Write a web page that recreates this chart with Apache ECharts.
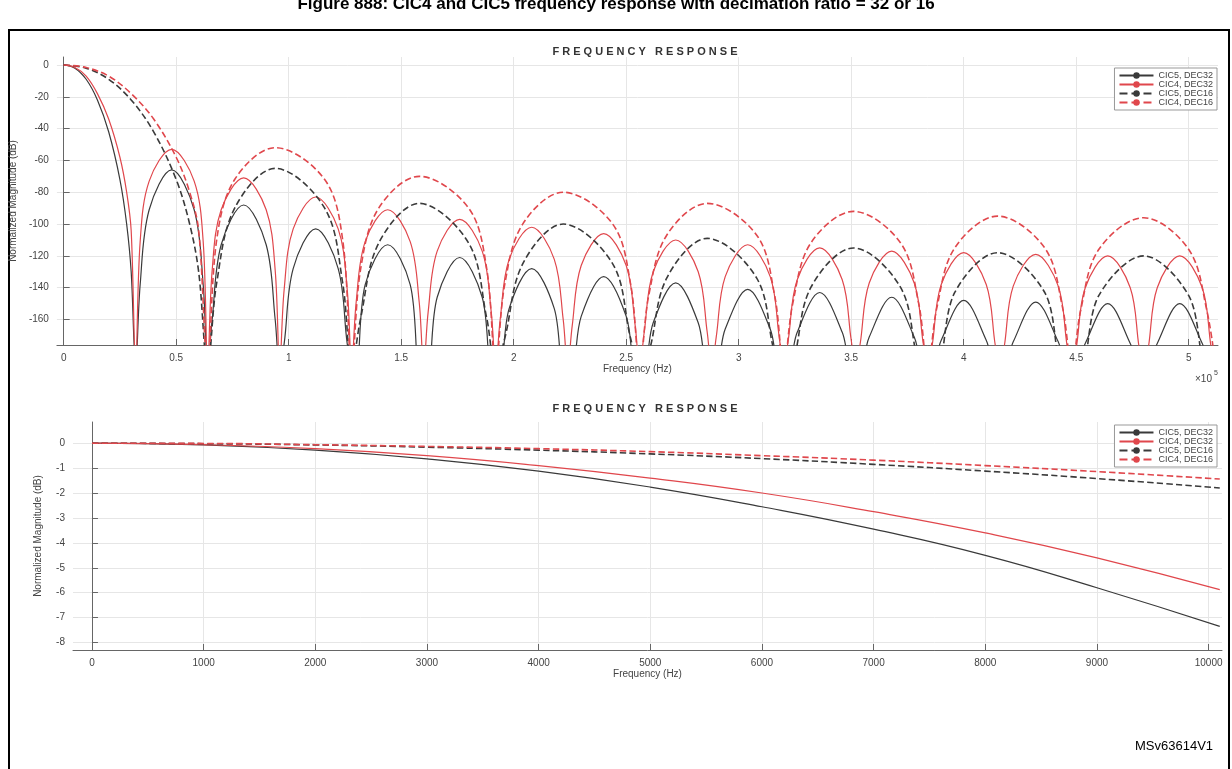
<!DOCTYPE html>
<html><head><meta charset="utf-8">
<script src="https://cdn.jsdelivr.net/npm/echarts@6/dist/echarts.min.js"></script>
<style>html,body{margin:0;padding:0;background:#fff}#c{width:1232px;height:769px}</style>
</head><body><div id="c"></div>
<script>
// ---- top chart (x in units of 1e5 Hz, y in dB) ----
const xDec32 = [0,0.05,0.1,0.15,0.2,0.25,0.28,0.3,
 0.32,0.34,0.38,0.48,0.58,0.62, 0.64,0.66,0.70,0.80,0.90,0.94, 0.96,0.98,1.02,1.12,1.22,1.26,
 1.28,1.30,1.34,1.44,1.54,1.58, 1.60,1.62,1.66,1.76,1.86,1.90, 1.92,1.94,1.98,2.08,2.18,2.22,
 2.24,2.26,2.30,2.40,2.50,2.54, 2.56,2.58,2.62,2.72,2.82,2.86, 2.88,2.90,2.94,3.04,3.14,3.18,
 3.20,3.22,3.26,3.36,3.46,3.50, 3.52,3.54,3.58,3.68,3.78,3.82, 3.84,3.86,3.90,4.00,4.10,4.14,
 4.16,4.18,4.22,4.32,4.42,4.46, 4.48,4.50,4.54,4.64,4.74,4.78, 4.80,4.82,4.86,4.96,5.06,5.10, 5.12];
const cic5Dec32 = [0,-2,-9,-22,-42,-72,-100,-130,
 -190,-138,-91,-66,-91,-138, -190,-160,-113,-88,-113,-160, -190,-175,-128,-103,-128,-175,
 -190,-190,-138,-113,-138,-190, -190,-190,-146,-121,-146,-190, -190,-190,-153,-128,-153,-190,
 -190,-190,-158,-133,-158,-190, -190,-190,-162,-137,-162,-190, -190,-190,-166,-141,-166,-190,
 -190,-190,-168,-143,-168,-190, -190,-190,-171,-146,-171,-190, -190,-190,-173,-148,-173,-190,
 -190,-190,-174,-149,-174,-190, -190,-190,-175,-150,-175,-190, -190,-190,-175,-150,-175,-190, -190];
const cic4Dec32 = [0,-1.6,-7,-18,-34,-58,-80,-104,
 -190,-111,-73,-53,-73,-111, -190,-129,-91,-71,-91,-129, -190,-141,-103,-83,-103,-141,
 -190,-149,-111,-91,-111,-149, -190,-155,-117,-97,-117,-155, -190,-160,-122,-102,-122,-160,
 -190,-164,-126,-106,-126,-164, -190,-168,-130,-110,-130,-168, -190,-171,-133,-113,-133,-171,
 -190,-173,-135,-115,-135,-173, -190,-175,-137,-117,-137,-175, -190,-176,-138,-118,-138,-176,
 -190,-177,-139,-119,-139,-177, -190,-178,-140,-120,-140,-178, -190,-178,-140,-120,-140,-178, -190];
const xDec16 = [0,0.1,0.2,0.3,0.4,0.5,0.56,0.6,
 0.64,0.68,0.76,0.94,1.16,1.24, 1.28,1.32,1.40,1.58,1.80,1.88, 1.92,1.96,2.04,2.22,2.44,2.52,
 2.56,2.60,2.68,2.86,3.08,3.16, 3.20,3.24,3.32,3.51,3.72,3.80, 3.84,3.88,3.96,4.15,4.36,4.44,
 4.48,4.52,4.60,4.80,5.00,5.08, 5.12];
const cic5Dec16 = [0,-2,-9,-22,-42,-72,-100,-130,
 -190,-137,-90,-65,-90,-137, -190,-159,-112,-87,-112,-159, -190,-172,-125,-100,-125,-172,
 -190,-181,-134,-109,-134,-181, -190,-187,-140,-115,-140,-187, -190,-190,-143,-118,-143,-190,
 -190,-190,-145,-120,-145,-190, -190];
const cic4Dec16 = [0,-1.6,-7,-18,-34,-58,-80,-104,
 -190,-110,-72,-52,-72,-110, -190,-128,-90,-70,-90,-128, -190,-138,-100,-80,-100,-138,
 -190,-145,-107,-87,-107,-145, -190,-150,-112,-92,-112,-150, -190,-153,-115,-95,-115,-153,
 -190,-154,-116,-96,-116,-154, -190];
const topYTicks = [0,-20,-40,-60,-80,-100,-120,-140,-160];
const topXTicks = [0,0.5,1,1.5,2,2.5,3,3.5,4,4.5,5];
// ---- bottom chart (Hz, dB) ----
const xZoom = [0,1000,2000,3000,4000,5000,6000,7000,8000,9000,10100];
const zCic5Dec32 = [0,-0.07,-0.28,-0.63,-1.12,-1.76,-2.55,-3.45,-4.5,-5.8,-7.35];
const zCic4Dec32 = [0,-0.06,-0.22,-0.5,-0.9,-1.4,-2.0,-2.75,-3.6,-4.6,-5.88];
const zCic5Dec16 = [0,-0.02,-0.07,-0.16,-0.28,-0.43,-0.62,-0.85,-1.12,-1.42,-1.8];
const zCic4Dec16 = [0,-0.01,-0.06,-0.13,-0.22,-0.34,-0.5,-0.68,-0.9,-1.14,-1.44];
const botXTicks = [0,1000,2000,3000,4000,5000,6000,7000,8000,9000,10000];
const botYTicks = [0,-1,-2,-3,-4,-5,-6,-7,-8];
const names = ['CIC5, DEC32','CIC4, DEC32','CIC5, DEC16','CIC4, DEC16'];

const BLK='#3a3a3a', RED='#e0474c';
const zip=(xs,ys)=>xs.map((x,i)=>[x,ys[i]]);
const styles=[{color:BLK,type:'solid',width:1.2},{color:RED,type:'solid',width:1.2},{color:BLK,type:'dashed',width:1.6},{color:RED,type:'dashed',width:1.6}];
const topSets=[[xDec32,cic5Dec32],[xDec32,cic4Dec32],[xDec16,cic5Dec16],[xDec16,cic4Dec16]];
const botSets=[[xZoom,zCic5Dec32],[xZoom,zCic4Dec32],[xZoom,zCic5Dec16],[xZoom,zCic4Dec16]];
const series=[];
topSets.forEach((s,i)=>series.push({name:names[i],type:'line',xAxisIndex:0,yAxisIndex:0,data:zip(s[0],s[1]),smooth:0.35,showSymbol:false,symbol:'none',clip:true,lineStyle:styles[i],color:styles[i].color}));
botSets.forEach((s,i)=>series.push({name:names[i],type:'line',xAxisIndex:1,yAxisIndex:1,data:zip(s[0],s[1]),smooth:true,showSymbol:false,symbol:'none',lineStyle:styles[i],color:styles[i].color}));
const axCol='#666', gridCol='#e6e6e6';
const lbl={color:'#444',fontSize:10,fontFamily:'Arial',formatter:v=>String(v)};
const lg={data:names,orient:'vertical',right:15,itemWidth:34,itemHeight:8,itemGap:0,padding:[3,4],borderColor:'#999',borderWidth:1,backgroundColor:'#fff',textStyle:{fontSize:9,color:'#444',fontFamily:'Arial'}};
const ch=echarts.init(document.getElementById('c'));
ch.setOption({
 animation:false,
 title:[
  {text:'Figure 888: CIC4 and CIC5 frequency response with decimation ratio = 32 or 16',left:'center',top:-9,textStyle:{fontSize:17,fontWeight:'bold',fontFamily:'Arial',color:'#000'}},
  {text:'F R E Q U E N C Y   R E S P O N S E',left:640,top:41,textAlign:'center',textStyle:{fontSize:11,fontWeight:'bold',fontFamily:'Arial',color:'#333'}},
  {text:'F R E Q U E N C Y   R E S P O N S E',left:640,top:398,textAlign:'center',textStyle:{fontSize:11,fontWeight:'bold',fontFamily:'Arial',color:'#333'}},
  {text:'MSv63614V1',left:1130,top:735,textStyle:{fontSize:13,fontWeight:'normal',fontFamily:'Arial',color:'#000'}}
 ],
 graphic:[
  {type:'rect',shape:{x:9,y:30,width:1220,height:745},style:{fill:'none',stroke:'#000',lineWidth:2},silent:true},
  {type:'text',left:1195,top:374,style:{text:'×10',fontSize:10,fill:'#444',fontFamily:'Arial'}},
  {type:'text',left:1214,top:370,style:{text:'5',fontSize:7,fill:'#444',fontFamily:'Arial'}}
 ],
 legend:[Object.assign({top:68},lg),Object.assign({top:425},lg)],
 grid:[
  {left:55,right:14,top:57,height:288},
  {left:73,right:10,top:422,height:228}
 ],
 xAxis:[
  {gridIndex:0,type:'value',min:-0.03,max:5.13,name:'Frequency (Hz)',nameLocation:'middle',nameGap:18,nameTextStyle:{fontSize:10,color:'#444',fontFamily:'Arial'},
   axisLine:{onZero:false,lineStyle:{color:axCol}},axisTick:{inside:true,length:6,lineStyle:{color:axCol},customValues:topXTicks},
   axisLabel:Object.assign({customValues:topXTicks},lbl),splitLine:{show:true,lineStyle:{color:gridCol}}},
  {gridIndex:1,type:'value',min:-170,max:10120,name:'Frequency (Hz)',nameLocation:'middle',nameGap:18,nameTextStyle:{fontSize:10,color:'#444',fontFamily:'Arial'},
   axisLine:{onZero:false,lineStyle:{color:axCol}},axisTick:{inside:true,length:6,lineStyle:{color:axCol},customValues:botXTicks},
   axisLabel:Object.assign({customValues:botXTicks},lbl),splitLine:{show:true,lineStyle:{color:gridCol}}}
 ],
 yAxis:[
  {gridIndex:0,type:'value',min:-176,max:5,name:'Normalized Magnitude (dB)',nameLocation:'middle',nameGap:32,nameTextStyle:{fontSize:10,color:'#444',fontFamily:'Arial'},
   axisLine:{show:true,lineStyle:{color:axCol}},axisTick:{inside:true,length:6,lineStyle:{color:axCol},customValues:topYTicks},
   axisLabel:Object.assign({customValues:topYTicks},lbl),splitLine:{show:true,lineStyle:{color:gridCol}}},
  {gridIndex:1,type:'value',min:-8.3,max:0.85,name:'Normalized Magnitude (dB)',nameLocation:'middle',nameGap:30,nameTextStyle:{fontSize:10,color:'#444',fontFamily:'Arial'},
   axisLine:{show:true,lineStyle:{color:axCol}},axisTick:{inside:true,length:6,lineStyle:{color:axCol},customValues:botYTicks},
   axisLabel:Object.assign({customValues:botYTicks},lbl),splitLine:{show:true,lineStyle:{color:gridCol}}}
 ],
 series:series
});
</script></body></html>
